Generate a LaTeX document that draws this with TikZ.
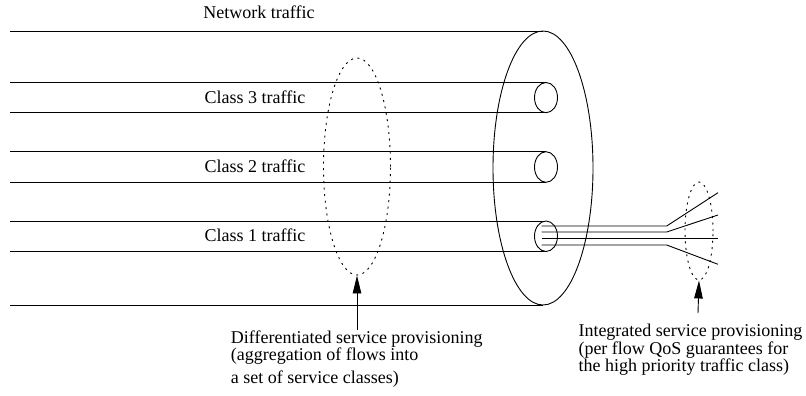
\documentclass[tikz,border=0pt]{standalone}
\usepackage{fontspec}
\setmainfont{Liberation Serif}
\usetikzlibrary{arrows.meta,shapes.geometric}
\begin{document}
\begin{tikzpicture}[x=1pt,y=-1pt,
  wire/.style={line width=0.9pt},
  fiber/.style={line width=0.9pt},
  region/.style={line width=0.9pt,dash pattern=on 2pt off 4.5pt},
  pointer/.style={line width=0.9pt,-{Triangle[length=18pt,width=8.5pt]}},
  lbl/.style={inner sep=0pt,anchor=base,font=\fontsize{18}{21}\selectfont},
  note/.style={inner sep=0pt,anchor=base west,font=\fontsize{18}{21}\selectfont}]
\useasboundingbox (0,0) rectangle (806,396);

% outer pipe: all network traffic
\coordinate (nt1) at (10,31);   \coordinate (nt2) at (543,31);
\coordinate (nb1) at (10,305);  \coordinate (nb2) at (543,305);
\draw[wire] (nt1) -- (nt2);
\draw[wire] (nb1) -- (nb2);
\node[draw,wire,ellipse,minimum width=100pt,minimum height=274pt,inner sep=0pt] (big) at (543,168) {};

% class pipes
\foreach \n/\t/\b in {c3/82.5/112.7, c2/151.7/182.3, c1/221/251.5}{
  \coordinate (\n l1) at (10,\t);  \coordinate (\n r1) at (546,\t);
  \coordinate (\n l2) at (10,\b);  \coordinate (\n r2) at (546,\b);
  \draw[wire] (\n l1) -- (\n r1);
  \draw[wire] (\n l2) -- (\n r2);
  \node[draw,wire,ellipse,minimum width=23pt,minimum height={\b pt-\t pt},inner sep=0pt,fill=white] (\n end) at (546,{(\t+\b)/2}) {};
}

% individual flows leaving class 1
\foreach \i/\y/\e in {1/226/192.7, 2/232/215, 3/238.3/238.3, 4/245/264.3}{
  \coordinate (f\i a) at (541.7,\y);
  \coordinate (f\i b) at (666.7,\y);
  \coordinate (f\i c) at (718,\e);
  \draw[fiber] (f\i a) -- (f\i b) -- (f\i c);
}

% dotted regions
\node[draw,region,ellipse,minimum width=67pt,minimum height=217pt,inner sep=0pt] (diff) at (357,166.5) {};
\node[draw,region,ellipse,minimum width=28pt,minimum height=98pt,inner sep=0pt] (intg) at (699,231) {};

% labels
\node[lbl] (lnet) at (259,19) {Network traffic};
\node[lbl] (l3) at (255,103.3) {Class 3 traffic};
\node[lbl] (l2) at (255,172.3) {Class 2 traffic};
\node[lbl] (l1) at (255,241.7) {Class 1 traffic};

\node[note] (d1) at (230.7,343.3) {Differentiated service provisioning};
\node[note] (d2) at (230.7,360.7) {(aggregation of flows into};
\node[note] (d3) at (230.7,383.3) {a set of service classes)};

\node[note] (i1) at (578.3,336.7) {Integrated service provisioning};
\node[note] (i2) at (578.3,354) {(per flow QoS guarantees for};
\node[note] (i3) at (578.3,371.7) {the high priority traffic class)};

% pointers
\coordinate (pa) at (357,330);
\coordinate (pb) at (698,313);
\draw[pointer] (pa) -- (diff.south);
\draw[pointer] (pb) -- (intg.south);
\end{tikzpicture}
\end{document}
